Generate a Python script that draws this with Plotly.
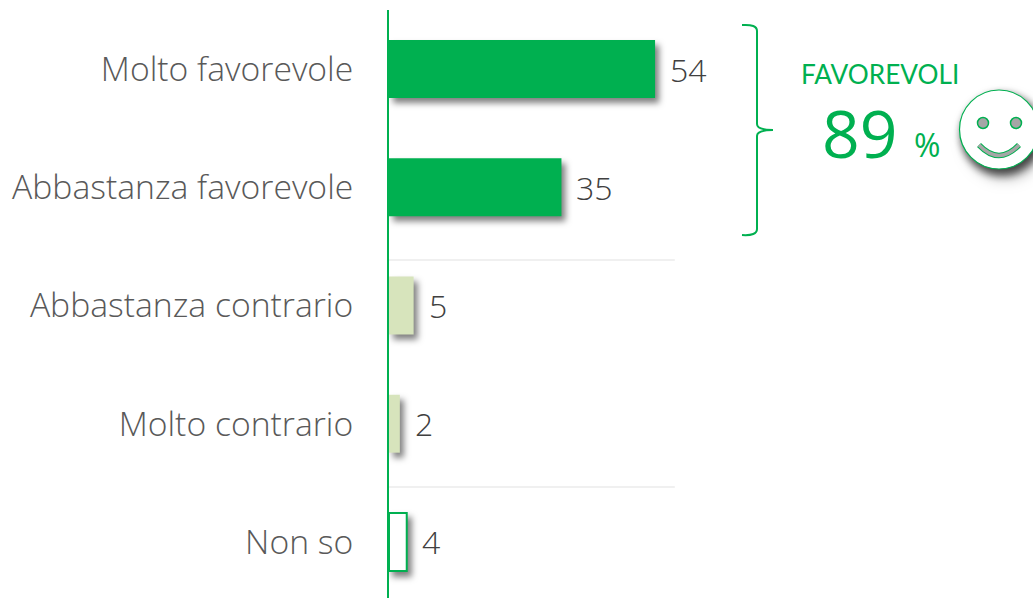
import plotly.graph_objects as go

categories = ["Molto favorevole", "Abbastanza favorevole", "Abbastanza contrario", "Molto contrario", "Non so"]
values = [54, 35, 5, 2.2, 3.6]
value_labels = ["54", "35", "5", "2", "4"]
fills = ["#00B050", "#00B050", "#D7E4BC", "#D7E4BC", "#FFFFFF"]
outlines = ["#00B050", "#00B050", "#D7E4BC", "#D7E4BC", "#00B050"]
separator_positions = [1.615, 3.535]

W, H = 1033, 598
GREEN = "#00B050"

def px(x):
    return x / W

def py(y):
    return 1 - y / H

def pp(x, y):
    return f"{px(x):.5f} {py(y):.5f}"

fig = go.Figure()
fig.add_trace(go.Bar(
    y=categories, x=values, orientation="h", width=0.49,
    marker=dict(color=fills, line=dict(color=outlines, width=[0, 0, 0, 0, 2])),
    hoverinfo="skip", showlegend=False,
))

shapes = []
for s in separator_positions:
    shapes.append(dict(type="line", xref="x", yref="y", x0=0, x1=58, y0=s, y1=s,
                       line=dict(color="#F0F0F0", width=2), layer="below"))

# curly brace
brace = (f"M {pp(742,25)} Q {pp(757,24)} {pp(757,31)} L {pp(757,124)} "
         f"Q {pp(757,130)} {pp(773,130)} Q {pp(757,130)} {pp(757,136)} "
         f"L {pp(757,229)} Q {pp(757,236)} {pp(742,235)}")
shapes.append(dict(type="path", xref="paper", yref="paper", path=brace,
                   line=dict(color=GREEN, width=2)))

def circle(cx, cy, r, fill, lw, name):
    return dict(type="circle", xref="paper", yref="paper", name=name,
                x0=px(cx - r), x1=px(cx + r), y0=py(cy + r), y1=py(cy - r),
                fillcolor=fill, line=dict(color=GREEN, width=lw))

shapes.append(circle(999, 129.5, 39.5, "#FFFFFF", 1.2, "smileface"))
shapes.append(circle(983, 123, 5.5, "#A6A6A6", 1.5, "eye"))
shapes.append(circle(1016, 123, 5.5, "#A6A6A6", 1.5, "eye"))
smile = f"M {pp(979,145)} Q {pp(999,166)} {pp(1019,145)}"
shapes.append(dict(type="path", xref="paper", yref="paper", path=smile,
                   line=dict(color=GREEN, width=5.5)))
shapes.append(dict(type="path", xref="paper", yref="paper", path=smile,
                   line=dict(color="#A6A6A6", width=3.5)))

annotations = []
for cat, v, lab in zip(categories, values, value_labels):
    annotations.append(dict(x=v, y=cat, xref="x", yref="y", text=lab, showarrow=False,
                            xanchor="left", xshift=13, yshift=0,
                            font=dict(family="Open Sans", size=32, color="#404040", weight=300)))
annotations.append(dict(x=px(880), y=py(74), xref="paper", yref="paper", text="FAVOREVOLI",
                        showarrow=False, xanchor="center", yanchor="middle",
                        font=dict(family="Lato", size=26.2, color=GREEN)))
annotations.append(dict(x=px(859.5), y=py(132), xref="paper", yref="paper", text="89",
                        showarrow=False, xanchor="center", yanchor="middle",
                        font=dict(family="Open Sans", size=66, color=GREEN)))
annotations.append(dict(x=px(927), y=py(145), xref="paper", yref="paper", text="%",
                        showarrow=False, xanchor="center", yanchor="middle",
                        font=dict(family="Open Sans", size=32, color=GREEN)))

fig.update_layout(
    width=W, height=H, margin=dict(l=0, r=0, t=0, b=0),
    paper_bgcolor="#FFFFFF", plot_bgcolor="#FFFFFF",
    shapes=shapes, annotations=annotations, showlegend=False,
    xaxis=dict(domain=[px(389), 1], range=[0, 130.7], visible=False),
    yaxis=dict(domain=[0, py(10)], range=[4.474, -0.499], type="category",
               categoryorder="array", categoryarray=categories,
               showgrid=False, zeroline=False, showline=True, linecolor=GREEN, linewidth=2,
               ticks="", ticklabelstandoff=27,
               tickfont=dict(family="Open Sans", size=33.7, color="#595959", weight=300)),
)

css = """
document.body.style.margin='0';
document.body.style.overflow='hidden';
var st=document.createElement('style');
st.textContent=".bars .point path{filter:drop-shadow(4px 5px 3px rgba(0,0,0,.5));}"
 + " .shapelayer [data-index='3']{filter:drop-shadow(3px 5px 4px rgba(0,0,0,.5));}"
 + " .layer-above .shapelayer > :nth-child(2){filter:drop-shadow(3px 5px 4px rgba(0,0,0,.5));}";
document.head.appendChild(st);
"""
fig.write_html("out.html", post_script=css, config=dict(displayModeBar=False))
